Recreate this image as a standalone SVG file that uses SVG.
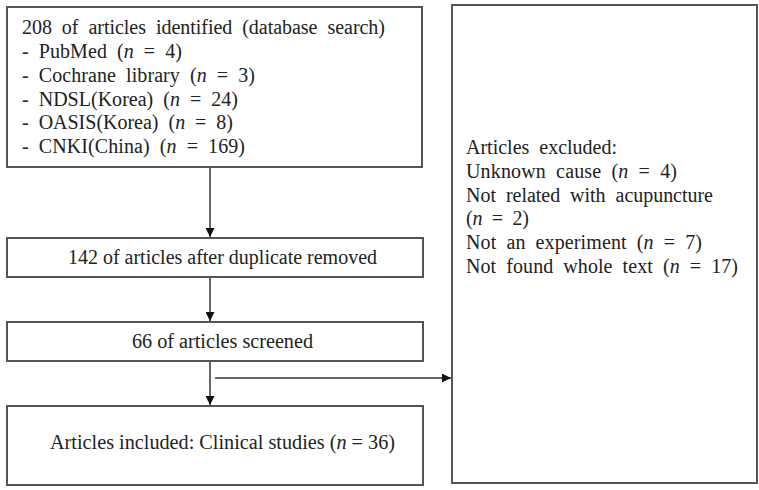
<svg xmlns="http://www.w3.org/2000/svg" width="759" height="490" viewBox="0 0 759 490">
<style>
.box{fill:#fff;stroke:#555;stroke-width:2}
.t{font-family:"Liberation Serif","Times New Roman",serif;font-size:20px;fill:#222}
.w{word-spacing:5px}
.ln{stroke:#333;stroke-width:1.5;fill:none}
</style>
<defs>
<marker id="ah" viewBox="0 0 10 10" refX="10" refY="5" markerWidth="9" markerHeight="9" markerUnits="userSpaceOnUse" orient="auto">
<path d="M0,0 L10,5 L0,10 z" fill="#111"/>
</marker>
</defs>
<rect width="759" height="490" fill="#fff"/>
<g id="connectors">
<line class="ln" x1="210" y1="167" x2="210" y2="237" marker-end="url(#ah)"/>
<line class="ln" x1="210" y1="277" x2="210" y2="321" marker-end="url(#ah)"/>
<line class="ln" x1="210" y1="361" x2="210" y2="405" marker-end="url(#ah)"/>
<line class="ln" x1="215" y1="378" x2="451" y2="378" marker-end="url(#ah)"/>
</g>
<g id="search">
<rect class="box" x="7" y="7" width="415" height="160"/>
<text class="t w" x="22" y="34" textLength="363" lengthAdjust="spacing">208 of articles identified (database search)</text>
<text class="t w" x="22" y="58" textLength="160" lengthAdjust="spacing">- PubMed (<tspan font-style="italic">n</tspan> = 4)</text>
<text class="t w" x="22" y="82" textLength="233" lengthAdjust="spacing">- Cochrane library (<tspan font-style="italic">n</tspan> = 3)</text>
<text class="t w" x="22" y="106" textLength="216" lengthAdjust="spacing">- NDSL(Korea) (<tspan font-style="italic">n</tspan> = 24)</text>
<text class="t w" x="22" y="129" textLength="211" lengthAdjust="spacing">- OASIS(Korea) (<tspan font-style="italic">n</tspan> = 8)</text>
<text class="t w" x="22" y="153" textLength="223" lengthAdjust="spacing">- CNKI(China) (<tspan font-style="italic">n</tspan> = 169)</text>
</g>
<g id="dedup">
<rect class="box" x="7" y="238" width="416" height="39"/>
<text class="t" x="68" y="264" textLength="309" lengthAdjust="spacingAndGlyphs">142 of articles after duplicate removed</text>
</g>
<g id="screened">
<rect class="box" x="7" y="322" width="416" height="39"/>
<text class="t" x="132" y="348" textLength="181" lengthAdjust="spacingAndGlyphs">66 of articles screened</text>
</g>
<g id="included">
<rect class="box" x="7" y="406" width="416" height="79"/>
<text class="t" x="50" y="449" textLength="345" lengthAdjust="spacingAndGlyphs">Articles included: Clinical studies (<tspan font-style="italic">n</tspan> = 36)</text>
</g>
<g id="excluded">
<rect class="box" x="452" y="5" width="305" height="478"/>
<text class="t w" x="466" y="154" textLength="151" lengthAdjust="spacing">Articles excluded:</text>
<text class="t w" x="466" y="178" textLength="211" lengthAdjust="spacing">Unknown cause (<tspan font-style="italic">n</tspan> = 4)</text>
<text class="t w" x="466" y="202" textLength="247" lengthAdjust="spacing">Not related with acupuncture</text>
<text class="t w" x="466" y="225" textLength="63" lengthAdjust="spacing">(<tspan font-style="italic">n</tspan> = 2)</text>
<text class="t w" x="466" y="249" textLength="236" lengthAdjust="spacing">Not an experiment (<tspan font-style="italic">n</tspan> = 7)</text>
<text class="t w" x="466" y="273" textLength="272" lengthAdjust="spacing">Not found whole text (<tspan font-style="italic">n</tspan> = 17)</text>
</g>
</svg>
